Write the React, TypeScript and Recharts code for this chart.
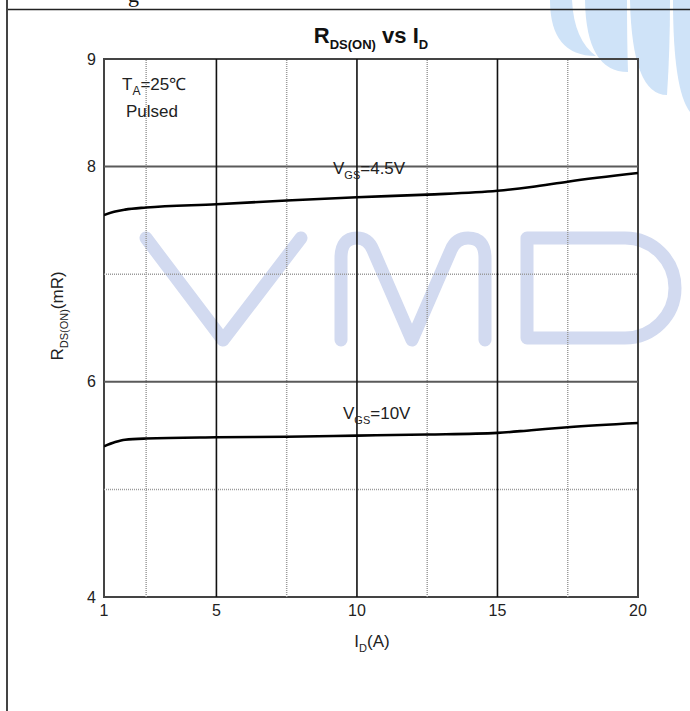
import React from 'react';
import { LineChart, Line, XAxis, YAxis, ReferenceLine, ReferenceArea } from 'recharts';

// I_D (A)
const currents = [1, 1.4, 1.75, 2.5, 5, 7.5, 10, 12.5, 15, 16.2, 17.5, 20];
// R_DS(ON) (mΩ) at V_GS = 4.5V
const rdsVgs45 = [7.55, 7.583, 7.60, 7.62, 7.65, 7.685, 7.715, 7.74, 7.775, 7.81, 7.86, 7.94];
// R_DS(ON) (mΩ) at V_GS = 10V
const rdsVgs10 = [5.40, 5.44, 5.462, 5.473, 5.484, 5.49, 5.50, 5.51, 5.525, 5.55, 5.578, 5.617];

const xTicks = [1, 5, 10, 15, 20];
const yTicks = [4, 6, 8, 9];
const xMajorGrid = [5, 10, 15];
const xMinorGrid = [2.5, 7.5, 12.5, 17.5];
const yMajorGrid = [6, 8];
const yMinorGrid = [5, 7];

const data = currents.map((id, i) => ({ id, v45: rdsVgs45[i], v10: rdsVgs10[i] }));

const FONT = 'Arial, "Liberation Sans", sans-serif';
const WM = '#d2daf0';
const LOGO = '#cfe3f8';

export default function App() {
  return (
    <div style={{ position: 'absolute', left: 0, top: 0, width: 690, height: 711, background: '#fff', overflow: 'hidden' }}>
      {/* background decorations: watermark and logo */}
      <svg width={690} height={711} style={{ position: 'absolute', left: 0, top: 0 }}>
        <path d="M550 0 Q550 56 596 56 Q574 40 572 0 Z" fill={LOGO} />
        <path d="M585 0 Q586 72 628 72 Q627 40 627 0 Z" fill={LOGO} />
        <path d="M630 0 Q632 95 667 95 Q670 50 670 0 Z" fill={LOGO} />
        <path d="M673 0 L690 0 L690 112 Q673 90 673 0 Z" fill={LOGO} />
        <g fill="none" stroke={WM} strokeWidth={13} strokeLinecap="round" strokeLinejoin="round">
          <path d="M146 238 L223 340 L301 238" />
          <path d="M341 340 L341 258 Q341 238 357 238 Q368 238 373 250 L412 340 L451 250 Q456 238 468 238 Q485 238 485 258 L485 340" />
          <path d="M527 238 L625 238 A50 50 0 0 1 625 338 L527 338 Z" />
        </g>
      </svg>
      <div style={{ position: 'absolute', left: 0, top: 0 }}>
        <LineChart width={690} height={711} data={data} margin={{ top: 59, right: 52, bottom: 84, left: 74 }}>
          <XAxis
            dataKey="id"
            type="number"
            domain={[1, 20]}
            ticks={xTicks}
            allowDataOverflow
            axisLine={false}
            tickLine={false}
            height={30}
            tick={{ fontSize: 16, fill: '#222', fontFamily: FONT }}
          />
          <YAxis
            type="number"
            domain={[4, 9]}
            ticks={yTicks}
            allowDataOverflow
            axisLine={false}
            tickLine={false}
            width={30}
            tick={{ fontSize: 16, fill: '#222', fontFamily: FONT }}
          />
          {yMinorGrid.map((v) => (
            <ReferenceLine key={'ym' + v} y={v} stroke="#9a9a9a" strokeWidth={1.5} strokeDasharray="1 1" />
          ))}
          {xMinorGrid.map((v) => (
            <ReferenceLine key={'xm' + v} x={v} stroke="#9a9a9a" strokeWidth={1.5} strokeDasharray="1 1" />
          ))}
          {yMajorGrid.map((v) => (
            <ReferenceLine key={'yM' + v} y={v} stroke="#5a5a5a" strokeWidth={2} />
          ))}
          {xMajorGrid.map((v) => (
            <ReferenceLine key={'xM' + v} x={v} stroke="#111" strokeWidth={1.6} />
          ))}
          <ReferenceArea x1={1} x2={20} y1={4} y2={9} fill="none" stroke="#444" strokeWidth={2} fillOpacity={0} />
          <Line type="monotone" dataKey="v45" stroke="#000" strokeWidth={2.6} dot={false} isAnimationActive={false} />
          <Line type="monotone" dataKey="v10" stroke="#000" strokeWidth={2.6} dot={false} isAnimationActive={false} />
        </LineChart>
      </div>
      {/* foreground texts and page frame */}
      <svg width={690} height={711} style={{ position: 'absolute', left: 0, top: 0, pointerEvents: 'none' }}>
        <line x1={6} y1={9.5} x2={690} y2={9.5} stroke="#222" strokeWidth={1.5} />
        <line x1={7} y1={0} x2={7} y2={711} stroke="#444" strokeWidth={2} />
        <text x={128} y={2} fontSize={22} fontFamily='"Liberation Serif", "Times New Roman", serif' fill="#111">g</text>

        <text x={371} y={43} textAnchor="middle" fontFamily={FONT} fontWeight="bold" fontSize={22} fill="#111">
          R<tspan fontSize={13} dy={6}>DS(ON)</tspan>
          <tspan dy={-6}> vs I</tspan>
          <tspan fontSize={13} dy={6}>D</tspan>
        </text>

        <text transform="translate(63 316) rotate(-90)" textAnchor="middle" fontFamily={FONT} fontSize={17} fill="#222">
          R<tspan fontSize={11} dy={5}>DS(ON)</tspan>
          <tspan dy={-5}>(mR)</tspan>
        </text>

        <text x={372} y={647} textAnchor="middle" fontFamily={FONT} fontSize={17} fill="#222">
          I<tspan fontSize={11} dy={5}>D</tspan>
          <tspan dy={-5}>(A)</tspan>
        </text>

        <text x={122} y={90} fontFamily={FONT} fontSize={17} fill="#222">
          T<tspan fontSize={12} dy={5}>A</tspan>
          <tspan dy={-5}>=25℃</tspan>
        </text>
        <text x={126} y={117} fontFamily={FONT} fontSize={17} fill="#222">Pulsed</text>

        <text x={333} y={174} fontFamily={FONT} fontSize={17} fill="#222">
          V<tspan fontSize={11} dy={5}>GS</tspan>
          <tspan dy={-5}>=4.5V</tspan>
        </text>
        <text x={343} y={419} fontFamily={FONT} fontSize={17} fill="#222">
          V<tspan fontSize={11} dy={5}>GS</tspan>
          <tspan dy={-5}>=10V</tspan>
        </text>
      </svg>
    </div>
  );
}
